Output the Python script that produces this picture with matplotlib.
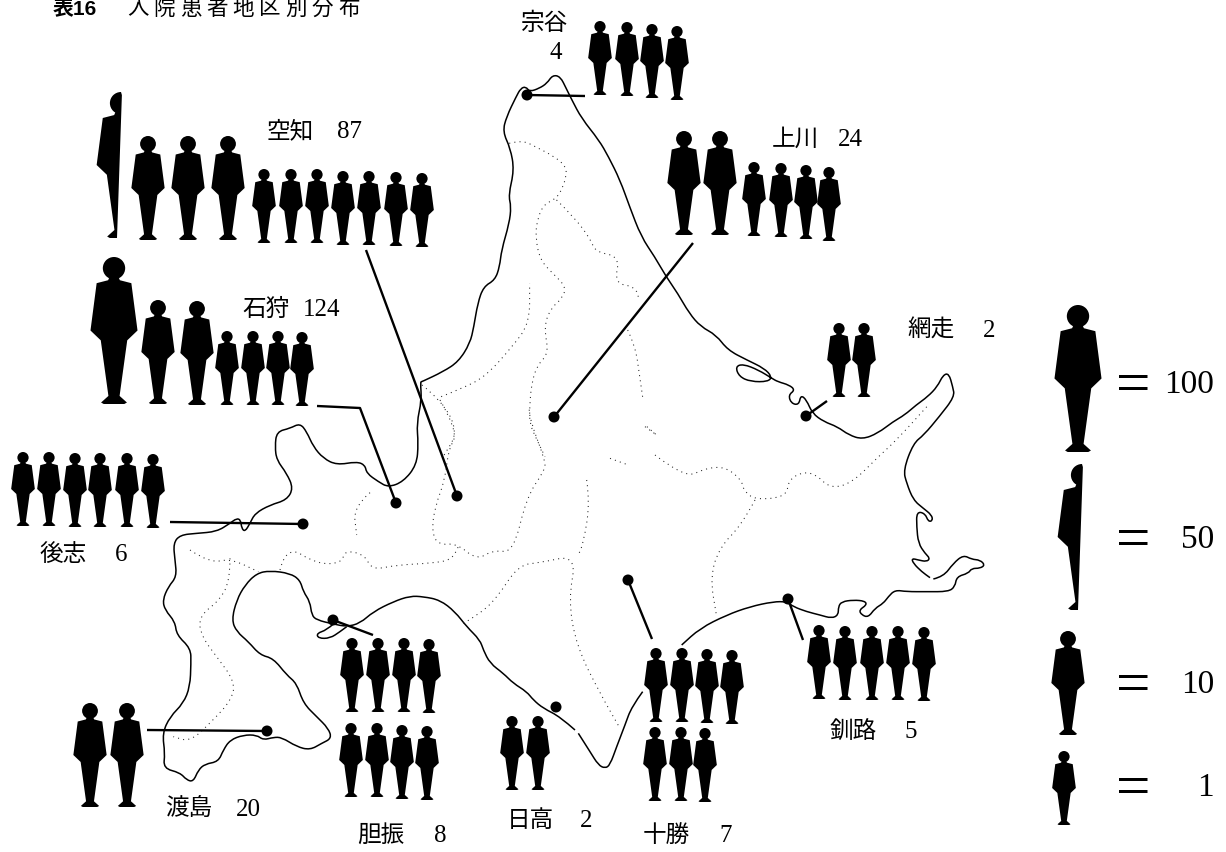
import numpy as np
import matplotlib
matplotlib.use('Agg')
import matplotlib.pyplot as plt
from matplotlib.patches import Circle, PathPatch, Polygon, Wedge
from matplotlib.path import Path

FAMILY = ['Liberation Serif', 'Noto Sans CJK JP']

# values
regions = ['宗谷', '上川', '網走', '空知', '石狩', '後志', '渡島', '胆振', '日高', '十勝', '釧路']
patients = [4, 24, 2, 87, 124, 6, 20, 8, 2, 7, 5]
legend_values = [100, 50, 10, 1]
title_bold = '表16'
title_rest = '入院患者地区別分布'

# layout: icon x and foot per region, in picture pixels
icon_x = {
    '宗谷': [600, 627, 652, 677],
    '上川': [684, 720, 754, 781, 806, 829],
    '網走': [839, 864],
    '空知': [120, 148, 188, 228, 264, 291, 317, 343, 369, 396, 422],
    '石狩': [114, 158, 197, 227, 253, 278, 302],
    '後志': [23, 49, 75, 100, 127, 153],
    '渡島': [90, 127],
    '胆振': [352, 378, 404, 429, 351, 377, 402, 427],
    '日高': [512, 538],
    '十勝': [656, 682, 707, 732, 655, 681, 705],
    '釧路': [819, 845, 872, 898, 924],
}
icon_foot = {
    '宗谷': [95, 96, 98, 100],
    '上川': [235, 235, 236, 237, 239, 241],
    '網走': [397, 397],
    '空知': [238, 240, 240, 240, 243, 243, 243, 245, 245, 246, 247],
    '石狩': [404, 404, 405, 405, 405, 405, 406],
    '後志': [526, 526, 527, 527, 527, 528],
    '渡島': [807, 807],
    '胆振': [712, 712, 712, 713, 797, 797, 799, 800],
    '日高': [790, 790],
    '十勝': [722, 722, 723, 724, 801, 801, 802],
    '釧路': [699, 700, 700, 700, 701],
}
# name left, value left, y (宗谷 is stacked)
label_pos = {
    '宗谷': (521, 550, 24, 53),
    '上川': (772, 838, 140, 140),
    '網走': (907, 983, 331, 331),
    '空知': (267, 337, 132, 132),
    '石狩': (242, 303, 310, 310),
    '後志': (39, 115, 555, 555),
    '渡島': (165, 236, 810, 810),
    '胆振': (357, 434, 836, 836),
    '日高': (507, 580, 821, 821),
    '十勝': (643, 719, 836, 836),
    '釧路': (829, 905, 732, 732),
}
# leader from icons to the dot, last point is the dot
leaders = {
    '宗谷': [(585, 96), (527, 95)],
    '上川': [(693, 243), (554, 417)],
    '網走': [(827, 401), (806, 416)],
    '空知': [(366, 250), (457, 496)],
    '石狩': [(317, 406), (360, 408), (396, 503)],
    '後志': [(170, 522), (303, 524)],
    '渡島': [(147, 730), (267, 731)],
    '胆振': [(373, 635), (333, 620)],
    '日高': [(556, 707), (556, 707)],
    '十勝': [(652, 639), (628, 580)],
    '釧路': [(803, 640), (788, 599)],
}
icon_height = {100: 147, 50: 146, 10: 104, 1: 74}
legend_x = [1078, 1081, 1068, 1064]
legend_foot = [452, 610, 735, 825]
legend_y = [385, 540, 685, 788]

# map outline
north = [(5, 965), (60, 935), (100, 905), (130, 850), (140, 800), (150, 730), (165, 680), (195, 660), (207, 620),
         (212, 570), (232, 490), (237, 440), (230, 405), (245, 330), (235, 265), (215, 215), (225, 170), (250, 110),
         (262, 85), (275, 80), (285, 95), (310, 85), (330, 70), (345, 45), (365, 50), (380, 85), (395, 120),
         (420, 175), (465, 240), (490, 290), (520, 360), (545, 440), (575, 530), (610, 590), (640, 650), (670, 700),
         (700, 760), (730, 800), (770, 825), (800, 870), (850, 900), (895, 925), (915, 950), (905, 965), (860, 965),
         (830, 950), (820, 920), (840, 912), (880, 930), (915, 955), (930, 965), (960, 975), (975, 990), (958, 1005),
         (965, 1030), (985, 1035), (990, 1005), (1005, 1020), (1020, 1060), (1050, 1085), (1085, 1100), (1115, 1125),
         (1150, 1138), (1190, 1120), (1230, 1085), (1260, 1065), (1290, 1035), (1320, 1010), (1345, 980), (1360, 945),
         (1375, 940), (1385, 980), (1390, 1010), (1350, 1070), (1310, 1125)]
east = [(1060, 130), (1030, 210), (1040, 250), (1060, 300), (1090, 325), (1115, 345), (1118, 362), (1105, 365),
        (1095, 340), (1070, 335), (1070, 380), (1075, 430), (1095, 460), (1110, 475), (1100, 485), (1075, 480),
        (1055, 475), (1060, 490), (1085, 515), (1110, 533)]
southeast = [(1120, 537), (1150, 530), (1180, 490), (1210, 465), (1235, 478), (1260, 480), (1275, 495), (1260, 505),
             (1235, 505), (1225, 520), (1190, 530), (1185, 560), (1165, 575), (1100, 575), (1040, 575), (1005, 570),
             (985, 590), (970, 610), (945, 625), (925, 652), (905, 645), (897, 630), (920, 615), (915, 603), (880, 600),
             (845, 605), (835, 620), (835, 645), (815, 655), (780, 645), (740, 635), (700, 620), (680, 605), (640, 605),
             (570, 620), (500, 645), (420, 685), (365, 735)]
cape = [(248, 875), (215, 920), (195, 975), (170, 1040), (150, 1095), (135, 1105), (115, 1095), (90, 1055), (55, 1000)]
southwest = [(1335, 990), (1290, 950), (1240, 925), (1210, 900), (1190, 875), (1150, 850), (1120, 820), (1080, 790),
             (1060, 750), (1050, 720), (1010, 680), (975, 635), (930, 600), (880, 590), (840, 588), (790, 605),
             (730, 635), (690, 670), (650, 680), (610, 672), (560, 660), (545, 645), (540, 605), (520, 575), (510, 540),
             (480, 520), (420, 512), (380, 520), (345, 555), (320, 600), (305, 660), (320, 695), (355, 725), (390, 765),
             (430, 775), (470, 825), (500, 850), (520, 910), (560, 950), (595, 985), (605, 1015), (575, 1030),
             (540, 1050), (500, 1040), (455, 1012), (430, 1012), (400, 1020), (380, 1005), (340, 1005), (300, 1020),
             (280, 1050), (265, 1085), (225, 1092), (205, 1110), (190, 1145), (170, 1140), (150, 1118), (100, 1105),
             (105, 1060), (97, 1000), (120, 950), (160, 910), (180, 860), (183, 790), (182, 745), (140, 705), (135, 665),
             (105, 630), (98, 600), (115, 560), (140, 530), (135, 480), (130, 430), (150, 405), (200, 400), (260, 395),
             (300, 370), (320, 355), (332, 360), (335, 385), (345, 395), (360, 370), (375, 340), (420, 315), (470, 300),
             (490, 265), (470, 220), (440, 180), (435, 140), (440, 95), (480, 85), (510, 70), (530, 95), (550, 140),
             (580, 175), (620, 195), (680, 185), (705, 195), (710, 220), (745, 245), (775, 262), (820, 245), (860, 195),
             (865, 130), (860, 70), (875, 0), (871, -54)]
lagoon = [(610, 672), (590, 690), (560, 700), (565, 715), (600, 715), (630, 695), (650, 680)]

borders_a = [
    [(232, 250), (265, 240), (300, 260), (350, 290), (380, 320), (380, 350), (370, 385), (355, 415), (320, 435),
     (305, 480), (300, 530), (312, 600), (345, 640), (380, 680), (370, 715), (340, 745), (322, 800), (335, 880),
     (305, 915), (290, 970), (285, 1040), (285, 1090), (300, 1130), (325, 1190)],
    [(355, 420), (400, 470), (445, 540), (455, 575), (520, 590), (505, 670), (560, 680), (570, 720)],
    [(540, 810), (560, 860), (570, 940), (580, 1020)],
    [(590, 1100), (615, 1125)],
    [(5, 975), (55, 1020), (100, 1115), (60, 1190)],
    [(55, 1010), (110, 985), (170, 950), (240, 860), (285, 790), (285, 670)],
]
borders_b = [
    [(930, 0), (985, 95), (955, 150), (945, 240), (915, 320), (905, 395), (925, 435), (980, 430), (1040, 480),
     (1090, 450), (1150, 458), (1190, 290), (1245, 210), (1245, 180), (1200, 60), (1197, 20)],
    [(180, 450), (240, 490), (300, 475), (385, 515)],
    [(300, 475), (300, 540), (270, 600), (205, 650), (215, 710), (260, 770), (315, 845), (305, 900), (240, 970),
     (180, 1025), (130, 1010)],
    [(450, 510), (468, 435), (560, 492), (635, 490), (645, 450), (705, 465), (725, 510), (800, 495), (900, 490),
     (965, 480), (985, 440)],
    [(720, 278), (670, 320), (680, 405)],
    [(1000, 670), (1045, 645), (1100, 595), (1165, 495), (1230, 488), (1340, 465), (1315, 600), (1340, 740),
     (1410, 880), (1470, 985)],
    [(1370, 240), (1380, 310), (1360, 430), (1345, 465)],
]
borders_c = [
    [(150, 175), (205, 195)],
    [(255, 80), (290, 105)],
    [(285, 165), (375, 235), (435, 205), (495, 200), (545, 240), (550, 270), (585, 300), (680, 290), (685, 240),
     (730, 215), (770, 225), (810, 265), (875, 250), (955, 170), (1010, 120), (1105, 15)],
    [(585, 300), (545, 375), (480, 440), (450, 530), (470, 650)],
]


def crop3(pts):
    return np.array(pts) / [2.6, 3] + [420, 60]


def crop4(pts):
    return np.array(pts) / 3 + [130, 400]


def crop5(pts):
    return np.array(pts) / 3 + [560, 400]


def split_value(v):
    # 124 -> 100, 10, 10, 1, 1, 1, 1
    out = []
    for unit in legend_values:
        while v >= unit:
            out.append(unit)
            v -= unit
    return out


def curve(ax, pts, **kw):
    # read points become quadratic control points so the coast does not look faceted
    verts = [pts[0]]
    codes = [Path.MOVETO]
    for i in range(1, len(pts) - 1):
        verts += [pts[i], (pts[i] + pts[i + 1]) / 2]
        codes += [Path.CURVE3, Path.CURVE3]
    verts.append(pts[-1])
    codes.append(Path.LINETO)
    ax.add_patch(PathPatch(Path(verts, codes), fill=False, **kw))


def draw_person(ax, x, foot, height, half=False):
    # outline of the left half, share of the height
    left = [(-0.03, 0.135), (-0.04, 0.158), (-0.118, 0.178), (-0.16, 0.50), (-0.09, 0.567), (-0.038, 0.945),
            (-0.088, 0.99), (-0.07, 1.0), (0, 1.0)]
    top = foot - height
    r = 0.076 * height
    pts = [(x + a * height, top + b * height) for a, b in left]
    if half:
        # the cut leans a little, as on the printed sheet
        pts = pts[:-1] + [(x - 3, foot), (x + 2, top)]
        ax.add_patch(Polygon(pts, closed=True, color='black', lw=0))
        ax.add_patch(Wedge((x + 1, top + r), r, 90, 270, color='black', lw=0))
        return
    right = [(x - (p[0] - x), p[1]) for p in reversed(pts[:-1])]
    ax.add_patch(Polygon(pts + right, closed=True, color='black', lw=0))
    ax.add_patch(Circle((x, top + r), r, color='black', lw=0))


fig = plt.figure(figsize=(12.26, 8.52), dpi=100)
ax = fig.add_axes([0, 0, 1, 1])
ax.set_xlim(0, 1226)
ax.set_ylim(852, 0)
ax.axis('off')

# Map
main_coast = np.vstack([crop4(southwest), crop3(north), crop5(east)])
for seg in [main_coast, crop5(southeast), crop5(cape), crop4(lagoon)]:
    curve(ax, seg, edgecolor='black', lw=1.1, joinstyle='round')
for conv, group in [(crop3, borders_a), (crop4, borders_b), (crop5, borders_c)]:
    for b in group:
        curve(ax, conv(b), edgecolor='#222222', lw=0.75, ls=(0, (1, 4)))

# Leaders and icons
for name, value in zip(regions, patients):
    line = np.array(leaders[name])
    ax.plot(line[:, 0], line[:, 1], color='black', lw=1.7, solid_capstyle='butt')
    ax.add_patch(Circle(line[-1], 5.5, color='black', lw=0, zorder=3))
    for unit, x, foot in zip(split_value(value), icon_x[name], icon_foot[name]):
        draw_person(ax, x, foot, icon_height[unit], half=unit == 50)
    nx, vx, ny, vy = label_pos[name]
    ax.text(nx, ny, name, family=FAMILY, fontsize=17, va='center', ha='left')
    ax.text(vx, vy, str(value), family=FAMILY, fontsize=18, va='center', ha='left')

# Legend
for value, x, foot, y in zip(legend_values, legend_x, legend_foot, legend_y):
    draw_person(ax, x, foot, icon_height[value], half=value == 50)
    ax.text(1133, y + 3, '=', family=FAMILY, fontsize=44, va='center', ha='center')
    ax.text(1214, y, str(value), family=FAMILY, fontsize=24, va='center', ha='right')

# Title sits at the very top edge
ax.text(53, 0, title_bold, family=['Liberation Sans', 'Noto Sans CJK JP'], fontsize=15, weight='bold', va='top',
        ha='left')
for i, ch in enumerate(title_rest):
    ax.text(127 + i * 26.4, 0, ch, family=FAMILY, fontsize=15.5, va='top', ha='left')

fig.savefig('out.png', dpi=100)
